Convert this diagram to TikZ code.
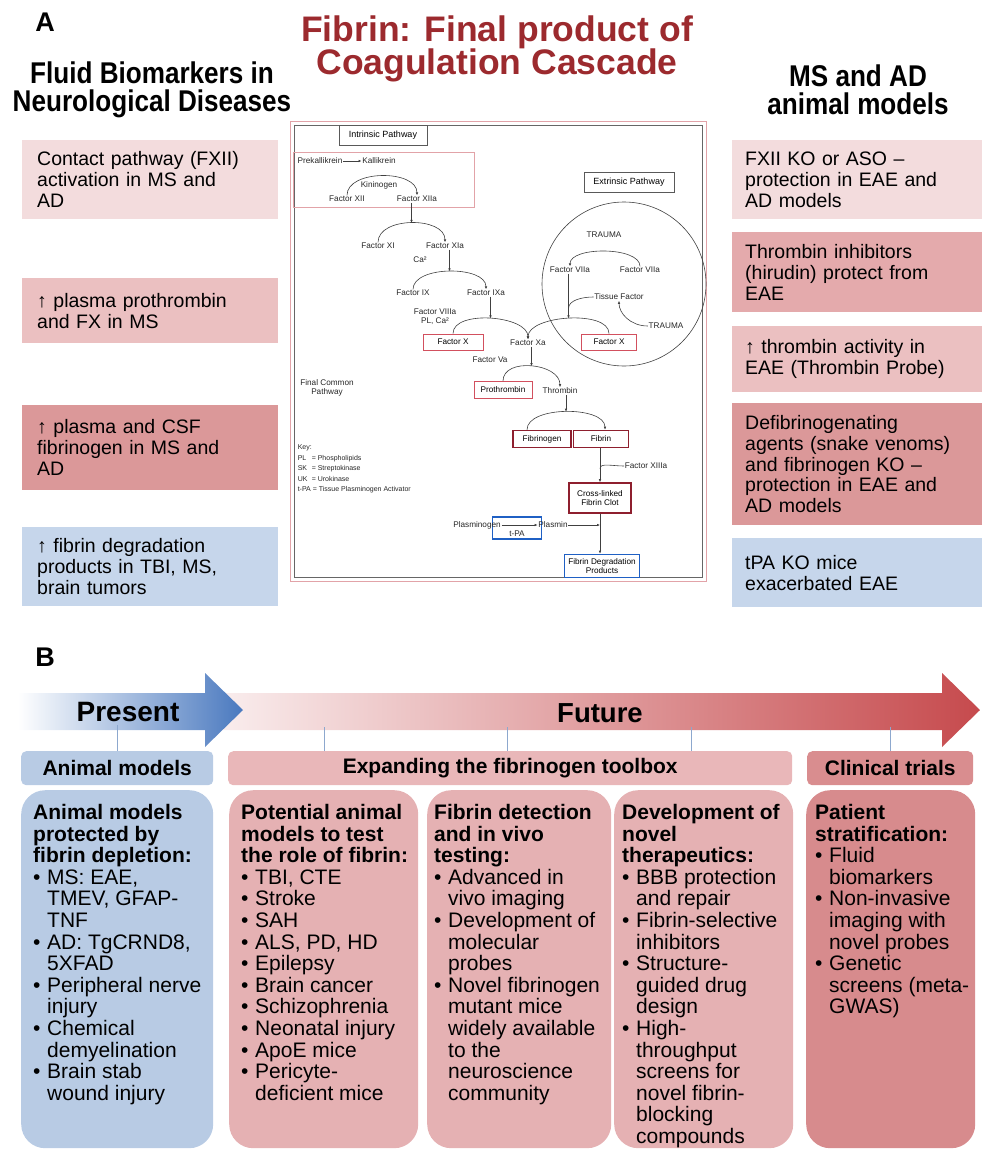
\documentclass[tikz,border=0pt]{standalone}
\usepackage{fontspec}
\setmainfont{Liberation Sans}
\newfontfamily\narrowfont[FakeStretch=0.87]{Liberation Sans}
\usetikzlibrary{arrows.meta}

\definecolor{titlered}{HTML}{9C2A2E}
\definecolor{palepink}{HTML}{F3DCDD}
\definecolor{midpink}{HTML}{EBC0C1}
\definecolor{rosepink}{HTML}{E4AAAC}
\definecolor{deeppink}{HTML}{DB9899}
\definecolor{paleblue}{HTML}{C6D6EB}
\definecolor{colblue}{HTML}{B8CBE4}
\definecolor{colpink}{HTML}{E5B1B3}
\definecolor{colred}{HTML}{D78B8D}
\definecolor{hdrpink}{HTML}{E9B7B9}
\definecolor{hdrred}{HTML}{D98D8F}
\definecolor{arrowblue}{HTML}{4A79BF}
\definecolor{arrowred}{HTML}{C64A4D}
\definecolor{tickblue}{HTML}{8DA8CE}
\definecolor{framepink}{HTML}{E2A3A8}
\definecolor{facred}{HTML}{D2505E}
\definecolor{fibred}{HTML}{8E1F2E}
\definecolor{facblue}{HTML}{1F60C4}

\newcommand\tightlines{\lineskiplimit=-100pt\lineskip=0pt}
\newcommand\casfont{\fontsize{8.2}{9}\selectfont\tightlines}
\newcommand\keyfont{\fontsize{7}{10.5}\selectfont\tightlines}
\newcommand\sidefont{\fontsize{19.5}{20.8}\selectfont\tightlines}
\newcommand\colfont{\fontsize{21}{21.6}\selectfont\tightlines}
\newcommand\bul{\makebox[14pt][l]{•}}
\newcommand\bulind{\hspace*{14pt}}

\tikzset{
  fac/.style={font=\casfont, inner sep=0.6pt, text=black!85},
  flow/.style={draw=black!75, line width=0.6pt},
  tipd/.style={-{Latex[length=3pt,width=2.6pt]}},
  pathbox/.style={draw=black!65, line width=0.9pt, font=\fontsize{9}{10}\selectfont, inner sep=1pt},
  facbox/.style={draw=facred, line width=1pt, font=\casfont, minimum height=16pt, inner sep=1pt},
  fibbox/.style={draw=fibred, line width=1.6pt, font=\casfont, minimum height=17pt, inner sep=1pt},
  lysbox/.style={draw=facblue, line width=1.6pt, font=\casfont, inner sep=1pt, align=center},
  sidebox/.style={anchor=north west, align=left, font=\sidefont, inner ysep=0pt},
  hdrbox/.style={anchor=north west, rounded corners=5pt, minimum height=34pt, inner sep=0pt,
    font=\fontsize{21}{24}\selectfont\bfseries},
  colbox/.style={anchor=north west, rounded corners=24pt, inner sep=0pt, minimum height=358pt},
  coltext/.style={anchor=north west, align=left, font=\colfont, inner sep=0pt},
  tickline/.style={draw=tickblue, line width=1.2pt}
}

\begin{document}
\begin{tikzpicture}[x=1pt, y=-1pt]
  \useasboundingbox (0,0) rectangle (982,1151);

  % panel A titles
  \node[font=\fontsize{27}{27}\selectfont\bfseries] (lblA) at (45,22) {A};
  \node[font=\bfseries\fontsize{35.5}{33}\selectfont\tightlines, text=titlered, align=center] (title) at (497,49) {Fibrin: Final product of\\Coagulation Cascade};
  \node[font=\narrowfont\bfseries\fontsize{30}{28}\selectfont\tightlines, align=center] (lefthd) at (152,90) {Fluid Biomarkers in\\Neurological Diseases};
  \node[font=\narrowfont\bfseries\fontsize{30}{28}\selectfont\tightlines, align=center] (righthd) at (858,90) {MS and AD\\animal models};

  % left column
  \node[sidebox, fill=palepink, text width=226pt, inner xsep=15pt, minimum height=79pt] (fluid1) at (22,140) {Contact pathway (FXII)\\activation in MS and\\AD};
  \node[sidebox, fill=midpink, text width=226pt, inner xsep=15pt, minimum height=65pt] (fluid2) at (22,278) {↑ plasma prothrombin\\and FX in MS};
  \node[sidebox, fill=deeppink, text width=226pt, inner xsep=15pt, minimum height=85pt] (fluid3) at (22,405) {↑ plasma and CSF\\fibrinogen in MS and\\AD};
  \node[sidebox, fill=paleblue, text width=226pt, inner xsep=15pt, minimum height=79pt] (fluid4) at (22,527) {↑ fibrin degradation\\products in TBI, MS,\\brain tumors};

  % right column
  \node[sidebox, fill=palepink, text width=224pt, inner xsep=13pt, minimum height=79pt] (model1) at (732,140) {FXII KO or ASO –\\protection in EAE and\\AD models};
  \node[sidebox, fill=rosepink, text width=224pt, inner xsep=13pt, minimum height=80pt] (model2) at (732,232) {Thrombin inhibitors\\(hirudin) protect from\\EAE};
  \node[sidebox, fill=midpink, text width=224pt, inner xsep=13pt, minimum height=66pt] (model3) at (732,326) {↑ thrombin activity in\\EAE (Thrombin Probe)};
  \node[sidebox, fill=deeppink, text width=224pt, inner xsep=13pt, minimum height=122pt] (model4) at (732,403) {Defibrinogenating\\agents (snake venoms)\\and fibrinogen KO –\\protection in EAE and\\AD models};
  \node[sidebox, fill=paleblue, text width=224pt, inner xsep=13pt, minimum height=69pt] (model5) at (732,538) {tPA KO mice\\exacerbated EAE};

  % cascade frame
  \draw[framepink, line width=1pt] (290,121) rectangle (706,581);
  \draw[black!60, line width=0.8pt] (294,125) rectangle (702,577);

  % intrinsic pathway
  \node[pathbox, minimum width=88pt, minimum height=20pt] (intr) at (383,135) {Intrinsic Pathway};
  \draw[framepink, line width=0.8pt] (293,152) rectangle (474,207);
  \node[fac] (prek) at (320,161) {Prekallikrein};
  \node[fac] (kall) at (379,161) {Kallikrein};
  \draw[flow, tipd] (prek) -- (kall);
  \node[fac] (fXII) at (347,199) {Factor XII};
  \node[fac] (fXIIa) at (417,199) {Factor XIIa};
  \draw[flow, tipd] (fXII.north) .. controls +(0,-26) and +(0,-26) .. (fXIIa.north);
  \node[fac] (kin) at (379,185) {Kininogen};
  \node[fac] (fXI) at (378,246) {Factor XI};
  \node[fac] (fXIa) at (445,246) {Factor XIa};
  \draw[flow, tipd] (fXI.north) .. controls +(0,-26) and +(0,-26) .. (fXIa.north) coordinate[pos=.5] (pkB);
  \draw[flow, tipd] (pkB |- fXIIa.south) -- (pkB);
  \node[fac] (ca1) at (420,260) {Ca²};
  \node[fac] (fIX) at (413,293) {Factor IX};
  \node[fac] (fIXa) at (486,293) {Factor IXa};
  \draw[flow, tipd] (fIX.north) .. controls +(0,-24) and +(0,-24) .. (fIXa.north) coordinate[pos=.5] (pkC);
  \draw[flow, tipd] (pkC |- fXIa.south) -- (pkC);
  \node[fac, align=center] (f8) at (435,317) {Factor VIIIa\\PL, Ca²};

  % factor X
  \node[facbox, minimum width=60pt] (fXl) at (453,342) {Factor X};
  \node[fac] (fXa) at (528,343) {Factor Xa};
  \node[facbox, minimum width=55pt] (fXr) at (609,342) {Factor X};
  \draw[flow, tipd] (fXl.north) .. controls +(0,-24) and +(0,-24) .. (fXa.north) coordinate[pos=.5] (pkD);
  \draw[flow, tipd] (fXr.north) .. controls +(0,-24) and +(0,-24) .. (fXa.north) coordinate[pos=.5] (pkE);
  \draw[flow, tipd] (pkD |- fIXa.south) -- (pkD);

  % extrinsic pathway
  \node[pathbox, minimum width=90pt, minimum height=20pt] (extr) at (629,182) {Extrinsic Pathway};
  \draw[flow] (624,284) circle[radius=82pt];
  \node[fac] (trauma1) at (604,235) {TRAUMA};
  \node[fac] (f7a) at (570,270) {Factor VIIa};
  \node[fac] (f7) at (640,270) {Factor VIIa};
  \draw[flow, tipd] (f7.north) .. controls +(0,-20) and +(0,-20) .. (f7a.north);
  \draw[flow, tipd] (pkE |- f7a.south) -- (pkE);
  \node[fac] (tf) at (619,297) {Tissue Factor};
  \coordinate (tfin) at ([yshift=10pt]pkE);
  \draw[flow] (tf.west) .. controls +(-12,0) and +(0,-8) .. (tfin);
  \node[fac] (trauma2) at (666,326) {TRAUMA};
  \draw[flow, tipd] (trauma2.west) .. controls +(-18,0) and +(0,12) .. (tf.south);

  % common pathway
  \node[fac, align=center] (fcp) at (327,388) {Final Common\\Pathway};
  \node[fac] (fVa) at (490,360) {Factor Va};
  \node[facbox, minimum width=58pt, minimum height=17pt] (proth) at (503,390) {Prothrombin};
  \node[fac] (thr) at (560,391) {Thrombin};
  \draw[flow, tipd] (proth.north) .. controls +(0,-24) and +(0,-24) .. (thr.north) coordinate[pos=.5] (pkF);
  \draw[flow, tipd] (pkF |- fXa.south) -- (pkF);
  \node[fibbox, minimum width=58pt] (fbg) at (542,439) {Fibrinogen};
  \node[fibbox, minimum width=55pt] (fbn) at (601,439) {Fibrin};
  \draw[flow, tipd] ([xshift=-15pt]fbg.north) .. controls +(0,-24) and +(0,-24) .. ([xshift=4pt]fbn.north) coordinate[pos=.5] (pkG);
  \draw[flow, tipd] (pkG |- thr.south) -- (pkG);
  \node[fibbox, minimum width=62pt, minimum height=30pt, align=center] (clot) at (600,498) {Cross-linked\\Fibrin Clot};
  \draw[flow, tipd] (fbn.south -| clot.north) -- (clot.north) coordinate[pos=.6] (f13in);
  \node[fac] (f13) at (646,466) {Factor XIIIa};
  \draw[flow] (f13.west) .. controls +(-12,0) and +(0,-6) .. (f13in);

  % fibrinolysis
  \node[lysbox, minimum width=49pt, minimum height=22pt] (tpa) at (517,528) {};
  \node[fac] (tpalbl) at (517,534) {t-PA};
  \node[fac] (plgn) at (477,525) {Plasminogen};
  \node[fac] (plsm) at (553,525) {Plasmin};
  \draw[flow, tipd] (plgn) -- (plsm);
  \node[lysbox, minimum width=75pt, minimum height=23pt] (fdp) at (602,566) {Fibrin Degradation\\Products};
  \draw[flow, tipd] (clot.south) -- (clot.south |- fdp.north);
  \draw[flow, tipd] (plsm) -- (plsm -| clot.south);

  % key
  \node[fac, font=\keyfont, anchor=north west, align=left] (key) at (297,444) {Key:\\\makebox[14pt][l]{PL}= Phospholipids\\\makebox[14pt][l]{SK}= Streptokinase\\\makebox[14pt][l]{UK}= Urokinase\\t-PA = Tissue Plasminogen Activator};

  % panel B timeline
  \node[font=\fontsize{27}{27}\selectfont\bfseries] (lblB) at (45,657) {B};
  \shade[left color=arrowred!8, right color=arrowred] (205,693) -- (942,693) -- (942,673) -- (980,710) -- (942,747) -- (942,730) -- (205,730) -- cycle;
  \shade[left color=white, right color=arrowblue] (18,693) -- (205,693) -- (205,673) -- (243,710) -- (205,747) -- (205,730) -- (18,730) -- cycle;
  \node[font=\fontsize{28}{28}\selectfont\bfseries] (present) at (128,712) {Present};
  \node[font=\fontsize{27.5}{28}\selectfont\bfseries] (future) at (600,713) {Future};

  % headers
  \node[hdrbox, fill=colblue, minimum width=192pt] (animhdr) at (21,751) {Animal models};
  \node[hdrbox, fill=hdrpink, minimum width=564pt] (exphdr) at (228,751) {Expanding the fibrinogen toolbox};
  \node[hdrbox, fill=hdrred, minimum width=166pt] (clinhdr) at (807,751) {Clinical trials};
  \draw[tickline] (animhdr.north) -- ++(0,-26);
  \draw[tickline] ([xshift=-186pt]exphdr.north) -- ++(0,-24);
  \draw[tickline] ([xshift=-3pt]exphdr.north) -- ++(0,-24);
  \draw[tickline] ([xshift=181pt]exphdr.north) -- ++(0,-24);
  \draw[tickline] (clinhdr.north) -- ++(0,-24);

  % columns
  \node[colbox, fill=colblue, minimum width=192pt] (animbox) at (21,790) {};
  \node[colbox, fill=colpink, minimum width=189pt] (potbox) at (229,790) {};
  \node[colbox, fill=colpink, minimum width=184pt] (detbox) at (427,790) {};
  \node[colbox, fill=colpink, minimum width=179pt] (thebox) at (614,790) {};
  \node[colbox, fill=colred, minimum width=169pt] (patbox) at (806,790) {};

  \node[coltext] (animtxt) at ([shift={(12,14)}]animbox.north west) {\textbf{Animal models}\\\textbf{protected by}\\\textbf{fibrin depletion:}\\\bul MS: EAE,\\\bulind TMEV, GFAP-\\\bulind TNF\\\bul AD: TgCRND8,\\\bulind 5XFAD\\\bul Peripheral nerve\\\bulind injury\\\bul Chemical\\\bulind demyelination\\\bul Brain stab\\\bulind wound injury};
  \node[coltext] (pottxt) at ([shift={(12,14)}]potbox.north west) {\textbf{Potential animal}\\\textbf{models to test}\\\textbf{the role of fibrin:}\\\bul TBI, CTE\\\bul Stroke\\\bul SAH\\\bul ALS, PD, HD\\\bul Epilepsy\\\bul Brain cancer\\\bul Schizophrenia\\\bul Neonatal injury\\\bul ApoE mice\\\bul Pericyte-\\\bulind deficient mice};
  \node[coltext] (dettxt) at ([shift={(7,14)}]detbox.north west) {\textbf{Fibrin detection}\\\textbf{and in vivo}\\\textbf{testing:}\\\bul Advanced in\\\bulind vivo imaging\\\bul Development of\\\bulind molecular\\\bulind probes\\\bul Novel fibrinogen\\\bulind mutant mice\\\bulind widely available\\\bulind to the\\\bulind neuroscience\\\bulind community};
  \node[coltext] (thetxt) at ([shift={(8,14)}]thebox.north west) {\textbf{Development of}\\\textbf{novel}\\\textbf{therapeutics:}\\\bul BBB protection\\\bulind and repair\\\bul Fibrin-selective\\\bulind inhibitors\\\bul Structure-\\\bulind guided drug\\\bulind design\\\bul High-\\\bulind throughput\\\bulind screens for\\\bulind novel fibrin-\\\bulind blocking\\\bulind compounds};
  \node[coltext] (pattxt) at ([shift={(9,14)}]patbox.north west) {\textbf{Patient}\\\textbf{stratification:}\\\bul Fluid\\\bulind biomarkers\\\bul Non-invasive\\\bulind imaging with\\\bulind novel probes\\\bul Genetic\\\bulind screens (meta-\\\bulind GWAS)};
\end{tikzpicture}
\end{document}
